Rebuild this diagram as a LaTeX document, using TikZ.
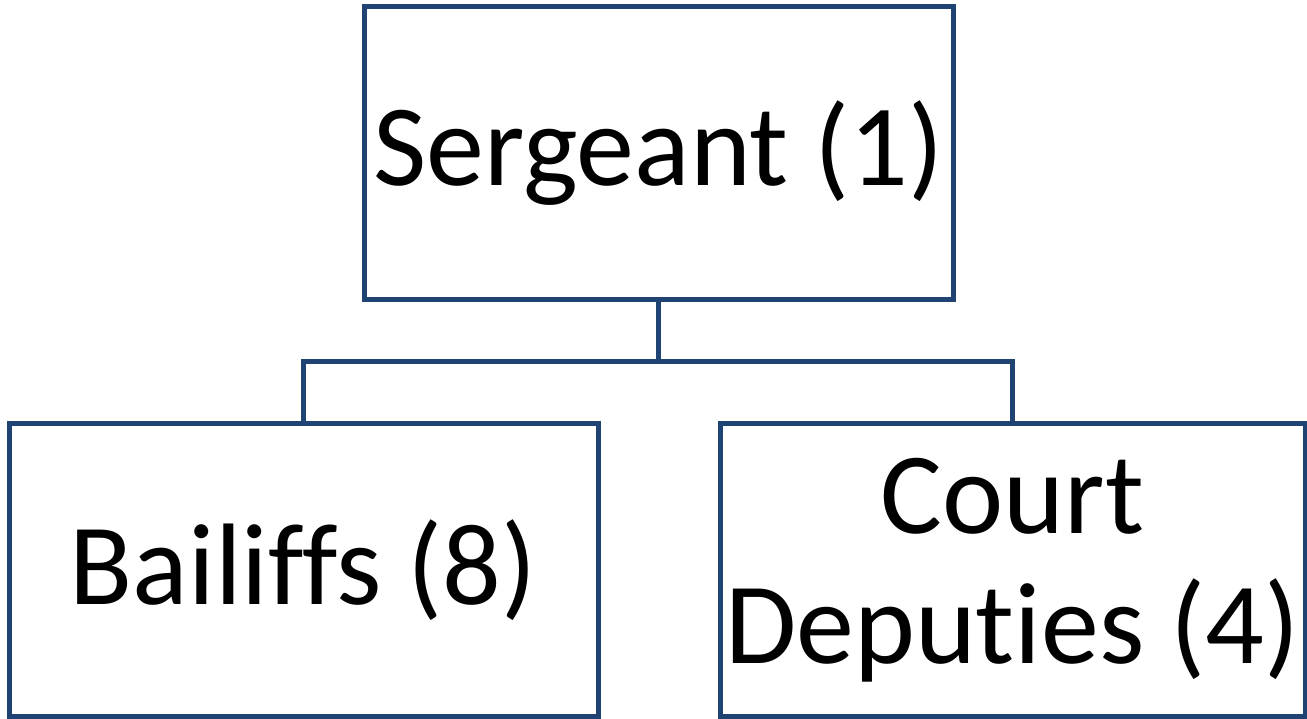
\documentclass[tikz,border=0pt]{standalone}
\usepackage{fontspec}
\setmainfont{Carlito}[Ligatures={NoCommon}]
\definecolor{boxline}{HTML}{1F4373}
\begin{document}
\begin{tikzpicture}[x=1pt,y=1pt,
  orgbox/.style={draw=boxline,line width=5pt,minimum width=589pt,minimum height=293pt,
    inner sep=0pt,align=center,font=\fontsize{116}{130}\selectfont},
  link/.style={draw=boxline,line width=5pt}]
\useasboundingbox (0,0) rectangle (1307,719);
% top of the chart
\node[orgbox] (sgt) at (658.5,565.5) {Sergeant (1)};
% the two units reporting to it
\node[orgbox] (bail) at (303.5,149) {Bailiffs (8)};
\node[orgbox,minimum width=585pt] (dep) at (1012.5,149) {Court\\Deputies (4)};
% branching connector
\coordinate (mid) at (658.5,357);
\draw[link] (sgt.south) -- (mid);
\draw[link] (bail.north) |- (mid) -| (dep.north);
\end{tikzpicture}
\end{document}
